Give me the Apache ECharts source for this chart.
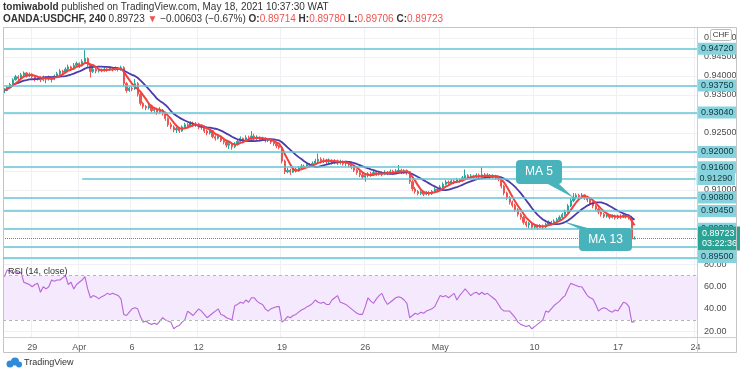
<!DOCTYPE html>
<html><head><meta charset="utf-8">
<script src="https://cdn.jsdelivr.net/npm/echarts@6/dist/echarts.min.js"></script>
<style>html,body{margin:0;padding:0;background:#fff}#c{width:740px;height:374px}</style>
</head><body><div id="c"></div>
<script>
// ---- time axis ----
const SLOTS = 250;
const tickIdx  = [10, 27, 46, 70, 100, 130, 157, 191, 221, 249];
const tickText = ['29','Apr','6','12','19','26','May','10','17','24'];

// ---- candles (4h) ----
const firstOpen = 0.9358;
const closes = [
.9362,.9370,.9378,.9390,.9398,.9394,.9403,.9408,.9401,.9405,
.9398,.9392,.9396,.9390,.9397,.9392,.9396,.9391,.9400,.9406,
.9413,.9409,.9418,.9424,.9419,.9428,.9433,.9427,.9438,.9446,
.9429,.9412,.9418,.9413,.9417,.9414,.9418,.9416,.9420,.9418,
.9421,.9417,.9422,.9380,.9362,.9368,.9366,.9380,.9352,.9328,
.9320,.9316,.9322,.9309,.9312,.9304,.9310,.9302,.9288,.9272,
.9266,.9258,.9262,.9255,.9266,.9272,.9268,.9276,.9270,.9274,
.9265,.9268,.9255,.9250,.9256,.9240,.9236,.9241,.9230,.9226,
.9218,.9222,.9214,.9220,.9228,.9236,.9230,.9238,.9234,.9242,
.9235,.9239,.9233,.9236,.9230,.9233,.9226,.9222,.9216,.9212,
.9176,.9148,.9152,.9147,.9155,.9150,.9158,.9163,.9160,.9167,
.9164,.9170,.9176,.9181,.9175,.9179,.9174,.9178,.9172,.9177,
.9171,.9175,.9169,.9172,.9166,.9160,.9152,.9146,.9140,.9134,
.9138,.9143,.9140,.9146,.9142,.9145,.9141,.9147,.9144,.9149,
.9145,.9150,.9152,.9147,.9151,.9148,.9122,.9103,.9096,.9091,
.9095,.9089,.9093,.9090,.9096,.9102,.9099,.9108,.9115,.9121,
.9118,.9124,.9120,.9127,.9124,.9132,.9138,.9133,.9137,.9134,
.9139,.9135,.9140,.9136,.9139,.9134,.9137,.9132,.9128,.9110,
.9092,.9080,.9068,.9060,.9048,.9036,.9028,.9015,.9008,.9012,
.9002,.9006,.9001,.9006,.9003,.9010,.9015,.9012,.9018,.9022,
.9028,.9035,.9042,.9058,.9072,.9081,.9086,.9083,.9087,.9080,
.9074,.9066,.9058,.9050,.9042,.9036,.9031,.9034,.9028,.9032,
.9027,.9031,.9029,.9034,.9030,.9028,.89714,.89723];
const highs = [
.9368,.9374,.9382,.9394,.9403,.9402,.9408,.9412,.9410,.9409,
.9407,.9401,.9400,.9399,.9401,.9399,.9401,.9398,.9404,.9411,
.9418,.9416,.9423,.9430,.9427,.9434,.9438,.9436,.9444,.9468,
.9449,.9432,.9424,.9421,.9421,.9420,.9423,.9421,.9424,.9423,
.9425,.9424,.9427,.9426,.9384,.9372,.9373,.9392,.9384,.9356,
.9332,.9324,.9327,.9325,.9318,.9316,.9318,.9313,.9306,.9291,
.9278,.9270,.9268,.9266,.9270,.9277,.9276,.9281,.9280,.9279,
.9277,.9272,.9270,.9259,.9260,.9258,.9244,.9246,.9243,.9234,
.9229,.9227,.9224,.9226,.9233,.9241,.9238,.9244,.9243,.9255,
.9248,.9244,.9241,.9240,.9239,.9237,.9235,.9229,.9226,.9219,
.9215,.9180,.9158,.9156,.9160,.9158,.9163,.9168,.9167,.9172,
.9170,.9175,.9182,.9196,.9186,.9184,.9182,.9183,.9181,.9181,
.9180,.9180,.9178,.9177,.9175,.9170,.9164,.9156,.9150,.9145,
.9143,.9147,.9148,.9150,.9149,.9150,.9148,.9152,.9150,.9154,
.9153,.9155,.9166,.9156,.9155,.9154,.9150,.9126,.9108,.9100,
.9099,.9098,.9097,.9097,.9100,.9107,.9106,.9113,.9120,.9126,
.9125,.9129,.9127,.9132,.9130,.9137,.9154,.9142,.9142,.9140,
.9144,.9143,.9160,.9145,.9144,.9142,.9141,.9140,.9136,.9131,
.9114,.9096,.9084,.9072,.9064,.9052,.9040,.9032,.9019,.9016,
.9014,.9010,.9009,.9010,.9009,.9014,.9020,.9019,.9023,.9027,
.9033,.9040,.9048,.9063,.9078,.9092,.9091,.9090,.9092,.9089,
.9084,.9078,.9070,.9062,.9054,.9046,.9040,.9039,.9037,.9036,
.9035,.9035,.9036,.9039,.9037,.9035,.9032,.8978];
const lows = [
.9355,.9360,.9366,.9376,.9388,.9389,.9392,.9398,.9396,.9397,
.9394,.9386,.9388,.9384,.9386,.9381,.9388,.9383,.9389,.9398,
.9403,.9403,.9407,.9414,.9413,.9417,.9424,.9421,.9425,.9436,
.9424,.9396,.9408,.9407,.9409,.9410,.9411,.9411,.9413,.9412,
.9414,.9412,.9414,.9372,.9356,.9358,.9360,.9363,.9346,.9322,
.9314,.9310,.9312,.9304,.9302,.9298,.9300,.9296,.9282,.9266,
.9260,.9252,.9250,.9250,.9253,.9262,.9262,.9265,.9266,.9266,
.9260,.9259,.9250,.9244,.9246,.9236,.9230,.9233,.9226,.9220,
.9212,.9208,.9206,.9210,.9217,.9225,.9226,.9228,.9229,.9231,
.9230,.9232,.9228,.9229,.9225,.9226,.9221,.9216,.9210,.9207,
.9170,.9142,.9144,.9140,.9145,.9146,.9148,.9154,.9155,.9158,
.9159,.9161,.9167,.9172,.9170,.9171,.9168,.9170,.9167,.9168,
.9166,.9167,.9164,.9163,.9160,.9155,.9147,.9140,.9134,.9128,
.9122,.9133,.9135,.9137,.9137,.9138,.9136,.9139,.9139,.9141,
.9140,.9142,.9144,.9142,.9143,.9140,.9116,.9097,.9090,.9086,
.9087,.9084,.9086,.9085,.9087,.9093,.9094,.9097,.9105,.9112,
.9113,.9115,.9115,.9118,.9119,.9122,.9129,.9128,.9130,.9129,
.9131,.9130,.9132,.9131,.9132,.9129,.9130,.9127,.9123,.9104,
.9086,.9074,.9062,.9054,.9042,.9030,.9022,.9009,.9002,.9000,
.8996,.8998,.8995,.8999,.8997,.9000,.9006,.9007,.9009,.9013,
.9018,.9024,.9031,.9040,.9055,.9068,.9075,.9077,.9078,.9074,
.9068,.9060,.9052,.9044,.9036,.9030,.9026,.9027,.9023,.9025,
.9022,.9023,.9024,.9026,.9025,.9022,.8968,.89706];

// ---- RSI(14, close) ----
const rsi = [
69,75,74,72,74,72,73,64,63,62, 60,62,63,55,60,58,60,66,65,66,
66,68,70,62,64,58,62,64,66,69, 58,50,52,51,49,51,52,54,53,54,
53,52,49,35,34,37,40,41,40,33, 28,29,27,26,27,26,29,32,30,29,
28,22,24,25,28,30,38,36,34,37, 40,38,35,32,34,36,38,40,35,34,
32,31,30,43,44,46,45,48,46,50, 50,47,45,44,40,38,40,41,42,42,
28,30,33,32,34,35,37,39,40,42, 43,45,48,46,45,46,44,44,48,50,
52,46,45,44,42,40,38,36,35,35, 42,50,47,45,49,52,54,48,44,46,
48,50,51,50,48,45,32,34,36,35, 37,36,38,39,40,42,47,52,51,52,
50,52,54,48,52,55,58,55,52,54, 55,53,55,53,54,52,50,48,44,40,
38,38,38,35,32,28,26,25,24,25, 22,24,26,28,30,38,37,40,43,45,
47,50,52,58,63,62,61,60,60,56, 52,50,49,44,38,40,41,40,38,37,
39,38,42,46,45,42,28,28.5];

// ---- horizontal levels (drawn lines) ----
const levels = [0.9472, 0.9375, 0.9304, 0.9200, 0.9160, 0.9080, 0.9045, 0.8998, 0.8950];
const partialLevel = 0.9129, partialStart = 28;
const lastPrice = 0.89723, countdown = '03:22:36';

// ---- build ----
const categories = Array.from({length: SLOTS}, (_, i) => 'b' + i);
const labelOf = {}; tickIdx.forEach((k, j) => labelOf[k] = tickText[j]);
const candles = closes.map((c, i) => {
  const o = i === 0 ? firstOpen : closes[i - 1];
  return [o, c, lows[i], highs[i]];
});
function sma(n) {
  return closes.map((_, i) => {
    const s = Math.max(0, i - n + 1); let t = 0;
    for (let k = s; k <= i; k++) t += closes[k];
    return +(t / (i - s + 1)).toFixed(5);
  });
}
const ma5 = sma(5), ma13 = sma(13);

const LINE = '#63c5d4', LBG = '#86d3de', LTXT = '#17353b';
const F = 'Liberation Sans';
const lvlLabel = {show: true, position: 'end', distance: 1, color: LTXT, backgroundColor: LBG,
  padding: [2, 3, 1, 3], fontSize: 9, fontFamily: F};
// the lowest level's price tag is pushed below the live-price tag, as in the screenshot
const lowest = levels[levels.length - 1];
const levelData = levels.map(v => ({yAxis: v,
  label: v === lowest ? {show: false} : Object.assign({}, lvlLabel, {formatter: v.toFixed(5)})}));
levelData.push([{coord: [partialStart, partialLevel]}, {coord: [SLOTS - 1, partialLevel],
  label: Object.assign({}, lvlLabel, {formatter: partialLevel.toFixed(5)})}]);
levelData.push({yAxis: lastPrice, lineStyle: {color: '#26a69a', type: 'dotted', width: 1},
  label: {show: true, position: 'end', distance: 1, color: '#fff', backgroundColor: '#2aa296',
    padding: [2, 4, 2, 4], fontSize: 9, lineHeight: 10, fontFamily: F,
    formatter: lastPrice.toFixed(5) + '\n' + countdown}});

const isTick = (idx) => labelOf[idx] !== undefined;
const chart = echarts.init(document.getElementById('c'), null, {renderer: 'canvas'});
chart.setOption({
  animation: false,
  backgroundColor: '#fff',
  grid: [
    {left: 3, top: 27, width: 694, height: 231},
    {left: 3, top: 259, width: 694, height: 78}
  ],
  xAxis: [
    {type: 'category', gridIndex: 0, data: categories, boundaryGap: true,
      axisLine: {show: false}, axisTick: {show: false}, axisLabel: {show: false},
      splitLine: {show: true, interval: isTick, lineStyle: {color: '#eef0f4', width: 1}}},
    {type: 'category', gridIndex: 1, data: categories, boundaryGap: true,
      axisLine: {show: false}, axisTick: {show: false},
      axisLabel: {show: true, interval: isTick, formatter: (v, i) => labelOf[i] || '',
        color: '#555', fontSize: 9, fontFamily: F, margin: 6},
      splitLine: {show: true, interval: isTick, lineStyle: {color: '#eef0f4', width: 1}}}
  ],
  yAxis: [
    {type: 'value', gridIndex: 0, position: 'right', min: 0.892105, max: 0.952895, splitNumber: 12,
      axisLine: {show: false}, axisTick: {show: false},
      axisLabel: {formatter: v => v.toFixed(5), color: '#4d4d4d', fontSize: 9, fontFamily: F, margin: 7,
        showMinLabel: false, showMaxLabel: false},
      splitLine: {lineStyle: {color: '#eef0f4'}}},
    {type: 'value', gridIndex: 1, position: 'right', min: 14.6, max: 85, splitNumber: 4,
      axisLine: {show: false}, axisTick: {show: false},
      axisLabel: {formatter: v => v.toFixed(2), color: '#4d4d4d', fontSize: 9, fontFamily: F, margin: 7,
        showMinLabel: false, showMaxLabel: false},
      splitLine: {lineStyle: {color: '#eef0f4'}}}
  ],
  series: [
    {type: 'candlestick', xAxisIndex: 0, yAxisIndex: 0, data: candles, barWidth: 1.7,
      itemStyle: {color: '#26a69a', color0: '#ef5350', borderColor: '#26a69a', borderColor0: '#ef5350', borderWidth: 1},
      markLine: {silent: true, symbol: 'none', precision: 5, lineStyle: {color: LINE, width: 1.5, type: 'solid'},
        data: levelData}},
    {type: 'line', xAxisIndex: 0, yAxisIndex: 0, data: ma13, showSymbol: false, symbol: 'none',
      lineStyle: {color: '#4b3caa', width: 1.8}, z: 3},
    {type: 'line', xAxisIndex: 0, yAxisIndex: 0, data: ma5, showSymbol: false, symbol: 'none',
      lineStyle: {color: '#f0423f', width: 2}, z: 4},
    {type: 'line', xAxisIndex: 1, yAxisIndex: 1, data: rsi, showSymbol: false, symbol: 'none',
      lineStyle: {color: '#b866d8', width: 1.1},
      markArea: {silent: true, itemStyle: {color: '#f4e9fd'}, data: [[{yAxis: 30}, {yAxis: 70}]]},
      markLine: {silent: true, symbol: 'none', label: {show: false},
        lineStyle: {color: '#b5b5b5', type: [3, 3], width: 1}, data: [{yAxis: 70}, {yAxis: 30}]}}
  ],
  graphic: [
    {type: 'rect', z: 50, shape: {x: 3.5, y: 27.5, width: 733, height: 325}, style: {fill: null, stroke: '#c4c4c4', lineWidth: 1}},
    {type: 'line', z: 50, shape: {x1: 697.5, y1: 27, x2: 697.5, y2: 352}, style: {stroke: '#cfcfcf', lineWidth: 1}},
    {type: 'line', z: 50, shape: {x1: 3, y1: 258, x2: 700, y2: 258}, style: {stroke: LINE, lineWidth: 1.5}},
    {type: 'line', z: 50, shape: {x1: 3, y1: 337.5, x2: 737, y2: 337.5}, style: {stroke: '#cfcfcf', lineWidth: 1}},
    {type: 'text', z: 72, x: 698, y: 257, style: {text: lowest.toFixed(5), font: '9px Liberation Sans', fill: LTXT,
      backgroundColor: LBG, padding: [2, 3, 1, 3], verticalAlign: 'middle'}},
    {type: 'text', z: 60, left: 3, top: 2, style: {text: '{b|tomiwabold} published on TradingView.com, May 18, 2021 10:37:30 WAT',
      font: '10px Liberation Sans', fill: '#333', rich: {b: {fontWeight: 'bold', fontSize: 10, fontFamily: F, fill: '#333'}}}},
    {type: 'text', z: 60, left: 3, top: 14, style: {
      text: '{b|OANDA:USDCHF, 240} 0.89723 {r|▼} −0.00603 (−0.67%) {b|O:}{r|0.89714} {b|H:}{r|0.89780} {b|L:}{r|0.89706} {b|C:}{r|0.89723}',
      font: '10px Liberation Sans', fill: '#333',
      rich: {b: {fontWeight: 'bold', fontSize: 10, fontFamily: F, fill: '#333'}, r: {fontSize: 10, fontFamily: F, fill: '#ef5350'}}}},
    {type: 'text', z: 60, left: 8, top: 267, style: {text: 'RSI (14, close)', font: '9px Liberation Sans', fill: '#333'}},
    {type: 'rect', z: 60, shape: {x: 710.5, y: 29.5, width: 21, height: 11, r: 2}, style: {fill: '#fff', stroke: '#bbb'}},
    {type: 'text', z: 61, x: 721, y: 35, style: {text: 'CHF', font: '8px Liberation Sans', fill: '#333', align: 'center', verticalAlign: 'middle'}},
    // annotations
    {type: 'polygon', z: 70, shape: {points: [[546, 183], [558, 183], [574, 198]]}, style: {fill: '#49b3bb'}},
    {type: 'rect', z: 70, shape: {x: 516, y: 160, width: 46, height: 24, r: 4}, style: {fill: '#49b3bb'}},
    {type: 'text', z: 71, x: 539, y: 172, style: {text: 'MA 5', font: '12px Liberation Sans', fill: '#fff', align: 'center', verticalAlign: 'middle'}},
    {type: 'polygon', z: 70, shape: {points: [[582, 230], [595, 230], [562, 221]]}, style: {fill: '#49b3bb'}},
    {type: 'rect', z: 70, shape: {x: 579, y: 228, width: 53, height: 23, r: 4}, style: {fill: '#49b3bb'}},
    {type: 'text', z: 71, x: 605.5, y: 239.5, style: {text: 'MA 13', font: '12px Liberation Sans', fill: '#fff', align: 'center', verticalAlign: 'middle'}},
    // logo
    {type: 'circle', z: 60, shape: {cx: 10, cy: 364, r: 3.5}, style: {fill: '#2f8bd8'}},
    {type: 'circle', z: 60, shape: {cx: 15, cy: 361.5, r: 4}, style: {fill: '#2f8bd8'}},
    {type: 'circle', z: 60, shape: {cx: 19, cy: 364.5, r: 3}, style: {fill: '#2f8bd8'}},
    {type: 'text', z: 60, left: 24, top: 358, style: {text: 'TradingView', font: '9px Liberation Sans', fill: '#333'}}
  ]
});
</script></body></html>
